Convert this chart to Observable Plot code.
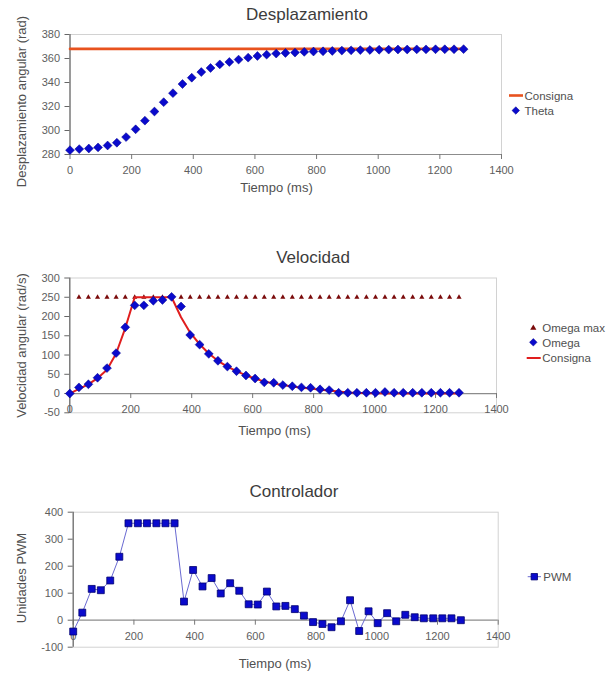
<!DOCTYPE html>
<html>
<head>
<meta charset="utf-8">
<script src="https://cdn.jsdelivr.net/npm/d3@7"></script>
<script src="https://cdn.jsdelivr.net/npm/@observablehq/plot@0.6"></script>
<style>
  html, body { margin: 0; padding: 0; background: #fff; }
  #root { position: relative; width: 615px; height: 674px; background: #fff; overflow: hidden; }
  #root > svg { position: absolute; left: 0; }
</style>
</head>
<body>
<div id="root"></div>
<script>
// ---------- data ----------
const time = [0, 30, 61, 91, 122, 152, 182, 213, 243, 274, 304, 334, 365, 395, 426, 456, 486, 517, 547, 578, 608, 638, 669, 699, 730, 760, 790, 821, 851, 882, 912, 942, 973, 1003, 1034, 1064, 1094, 1125, 1155, 1186, 1216, 1246, 1277];

const theta = [283.6, 284.5, 285, 285.9, 287.5, 289.8, 294.5, 301, 308.2, 315.8, 323.6, 331.1, 338.7, 344, 348.7, 352.1, 355.1, 357.1, 359.1, 360.7, 362.1, 363.2, 364.1, 364.6, 364.9, 365.5, 365.8, 366, 366.3, 366.6, 366.8, 367, 367.1, 367.3, 367.4, 367.5, 367.5, 367.6, 367.6, 367.7, 367.7, 367.7, 367.8];
const consignaTheta = [368, 368, 368, 368, 368, 368, 368, 368, 368, 368, 368, 368, 368, 368, 368, 368, 368, 368, 368, 368, 368, 368, 368, 368, 368, 368, 368, 368, 368, 368, 368, 368, 368, 368, 368, 368, 368, 368, 368, 368, 368, 368, 368];

const omegaMax = [null, 250, 250, 250, 250, 250, 250, 250, 250, 250, 250, 250, 250, 250, 250, 250, 250, 250, 250, 250, 250, 250, 250, 250, 250, 250, 250, 250, 250, 250, 250, 250, 250, 250, 250, 250, 250, 250, 250, 250, 250, 250, 250];
const omega = [0, 16, 24, 41, 66, 105, 172, 229, 229, 241, 243, 251, 226, 152, 127, 103, 85, 70, 58, 47, 39, 29, 28, 22, 19, 16, 15, 11, 9, 2, 2, 2, 2, 2, 4, 2, 2, 2, 2, 2, 2, 2, 2];
const consignaOmega = [0, 12, 24, 40, 62, 104, 170, 250, 250, 250, 250, 250, 198, 158, 128, 104, 85, 70, 58, 47, 39, 31, 26, 22, 18, 15, 13, 10, 8, 5, 3, 2, 1, 1, 0, 0, 0, 0, 0, 0, 0, 0, 0];

const pwm = [-42, 28, 116, 111, 147, 235, 359, 359, 359, 359, 359, 359, 69, 186, 125, 156, 99, 137, 109, 59, 58, 106, 51, 53, 41, 17, -7, -14, -26, -4, 74, -40, 33, -11, 26, -4, 20, 11, 7, 7, 7, 7, 0];

const xTicks = [0, 200, 400, 600, 800, 1000, 1200, 1400];
const yTicks1 = [280, 300, 320, 340, 360, 380];
const yTicks2 = [-50, 0, 50, 100, 150, 200, 250, 300];
const yTicks3 = [-100, 0, 100, 200, 300, 400];

// ---------- build ----------
const rows = time.map((t, i) => ({
  t, theta: theta[i], consignaTheta: consignaTheta[i],
  omegaMax: omegaMax[i], omega: omega[i], consignaOmega: consignaOmega[i],
  pwm: pwm[i]
}));

const FONT = "'Liberation Sans', Arial, sans-serif";
const BLUE = "#0a0acc";
const root = document.getElementById("root");
const fmt = d => String(d);

function panel({top, height, mt, mb, ml, mr, ydom, yticks, zeroAxis, marks}) {
  const innerH = height - mt - mb;
  const dyAxis = zeroAxis ? -((0 - ydom[0]) / (ydom[1] - ydom[0])) * innerH : 0;
  const chart = Plot.plot({
    width: 615, height,
    marginTop: mt, marginBottom: mb, marginLeft: ml, marginRight: mr,
    x: {domain: [0, 1400]},
    y: {domain: ydom},
    style: {fontFamily: FONT, fontSize: "11px", color: "#5e5e5e", background: "transparent", overflow: "visible"},
    marks: [
      Plot.frame({stroke: "#d2d2d2"}),
      Plot.ruleY([zeroAxis ? 0 : ydom[0]], {stroke: "#8c8c8c", strokeWidth: 1.2}),
      Plot.axisY(yticks, {tickSize: 5, tickPadding: 5, tickFormat: fmt, label: null, stroke: "#666"}),
      Plot.axisX(xTicks, {tickSize: 5, tickPadding: 7, tickFormat: fmt, label: null, dy: dyAxis, stroke: "#777"}),
      Plot.ruleX([0], {stroke: "#666", strokeWidth: 1.2}),
      ...marks
    ]
  });
  chart.style.top = top + "px";
  root.appendChild(chart);
}

// Panel 1: Desplazamiento
panel({
  top: 0, height: 200, mt: 34, mb: 46, ml: 69.5, mr: 114,
  ydom: [280, 380], yticks: yTicks1, zeroAxis: false,
  marks: [
    Plot.line(rows, {x: "t", y: "consignaTheta", stroke: "#e8521e", strokeWidth: 2.6}),
    Plot.dot(rows, {x: "t", y: "theta", symbol: "diamond2", r: 4, fill: BLUE, stroke: "#00008a", strokeWidth: 0.5})
  ]
});

// Panel 2: Velocidad
panel({
  top: 240, height: 200, mt: 37.5, mb: 27.7, ml: 69.3, mr: 119,
  ydom: [-50, 300], yticks: yTicks2, zeroAxis: true,
  marks: [
    Plot.dot(rows.filter(d => d.omegaMax != null), {x: "t", y: "omegaMax", symbol: "triangle", r: 1.9, fill: "#7a0a0a", stroke: "none"}),
    Plot.line(rows, {x: "t", y: "consignaOmega", stroke: "#e01e1e", strokeWidth: 2}),
    Plot.dot(rows, {x: "t", y: "omega", symbol: "diamond2", r: 4, fill: BLUE, stroke: "#00008a", strokeWidth: 0.5})
  ]
});

// Panel 3: Controlador
panel({
  top: 470, height: 204, mt: 41.7, mb: 27.3, ml: 72.7, mr: 117.3,
  ydom: [-100, 400], yticks: yTicks3, zeroAxis: true,
  marks: [
    Plot.line(rows, {x: "t", y: "pwm", stroke: "#6a6ad2", strokeWidth: 1}),
    Plot.dot(rows, {x: "t", y: "pwm", symbol: "square", r: 3.9, fill: BLUE, stroke: "#000070", strokeWidth: 0.8})
  ]
});

// ---------- overlay text & legends ----------
const ov = d3.select(root).append("svg")
  .attr("width", 615).attr("height", 674)
  .style("top", "0px").style("pointer-events", "none")
  .style("font-family", FONT);

const titles = [
  {text: "Desplazamiento", x: 307, y: 20},
  {text: "Velocidad", x: 313, y: 263},
  {text: "Controlador", x: 294, y: 496.5}
];
ov.selectAll("text.title").data(titles).join("text")
  .attr("class", "title").attr("x", d => d.x).attr("y", d => d.y)
  .attr("text-anchor", "middle").attr("font-size", 17).attr("fill", "#3c3c3c").text(d => d.text);

const xLabels = [
  {x: 276.5, y: 192}, {x: 274.5, y: 435}, {x: 275, y: 668}
];
ov.selectAll("text.xl").data(xLabels).join("text")
  .attr("class", "xl").attr("x", d => d.x).attr("y", d => d.y)
  .attr("text-anchor", "middle").attr("font-size", 13).attr("fill", "#505050").text("Tiempo (ms)");

const yLabels = [
  {text: "Desplazamiento angular (rad)", cy: 101.5},
  {text: "Velocidad angular (rad/s)", cy: 345.5},
  {text: "Unidades PWM", cy: 578}
];
ov.selectAll("text.yl").data(yLabels).join("text")
  .attr("class", "yl")
  .attr("transform", d => `translate(25.5,${d.cy}) rotate(-90)`)
  .attr("text-anchor", "middle").attr("font-size", 13).attr("fill", "#505050").text(d => d.text);

// legends
function legendText(x, y, t) {
  ov.append("text").attr("x", x).attr("y", y).attr("font-size", 11.5).attr("fill", "#505050").text(t);
}
function sym(type, r, x, y, fill, stroke, sw) {
  ov.append("path").attr("d", d3.symbol(type, Math.PI * r * r)()).attr("transform", `translate(${x},${y})`)
    .attr("fill", fill).attr("stroke", stroke || "none").attr("stroke-width", sw || 0);
}
// panel 1
ov.append("line").attr("x1", 509).attr("x2", 523).attr("y1", 95.5).attr("y2", 95.5).attr("stroke", "#e8521e").attr("stroke-width", 2.6);
legendText(524.5, 100, "Consigna");
sym(d3.symbolDiamond2, 3.4, 515.8, 110.5, BLUE, "#00008a", 0.5);
legendText(524.5, 115, "Theta");
// panel 2
sym(d3.symbolTriangle, 2.3, 533.3, 328, "#7a0a0a");
legendText(542.3, 331.5, "Omega max");
sym(d3.symbolDiamond2, 3.4, 533.3, 342.3, BLUE, "#00008a", 0.5);
legendText(542.3, 346.5, "Omega");
ov.append("line").attr("x1", 526.7).attr("x2", 540.7).attr("y1", 358).attr("y2", 358).attr("stroke", "#e01e1e").attr("stroke-width", 2);
legendText(542.3, 361.5, "Consigna");
// panel 3
ov.append("line").attr("x1", 527.7).attr("x2", 541).attr("y1", 576.7).attr("y2", 576.7).attr("stroke", "#6a6ad2").attr("stroke-width", 1);
sym(d3.symbolSquare, 3.6, 534.3, 576.7, BLUE, "#000070", 0.8);
legendText(543.3, 581, "PWM");
</script>
</body>
</html>
